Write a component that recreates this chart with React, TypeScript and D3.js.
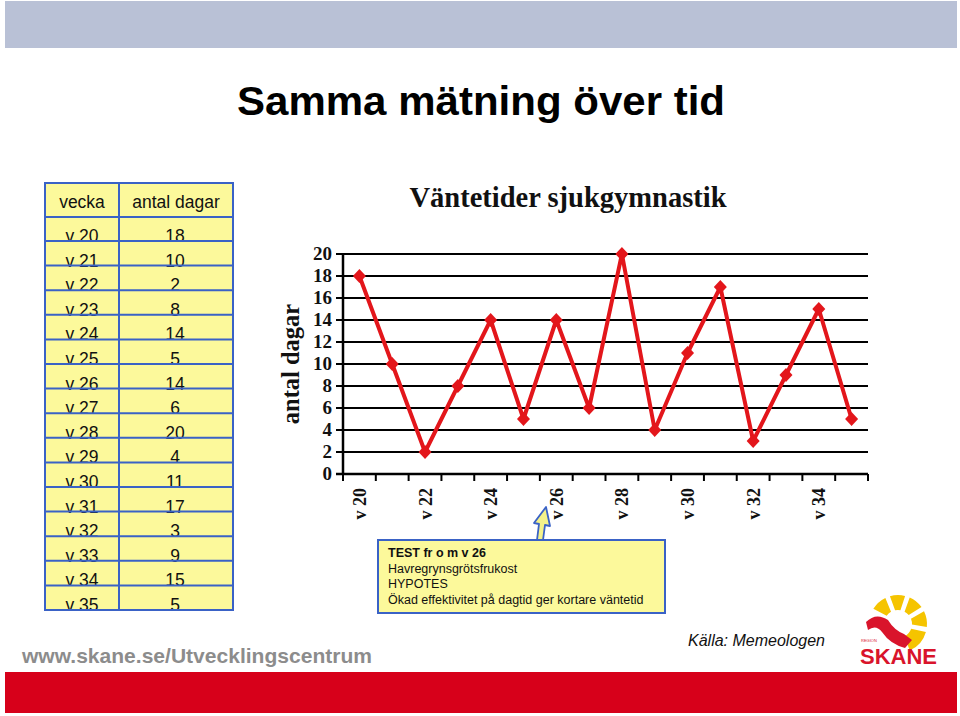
import React from "react";
import * as d3 from "d3";

const weeks = ["v 20","v 21","v 22","v 23","v 24","v 25","v 26","v 27","v 28","v 29","v 30","v 31","v 32","v 33","v 34","v 35"];
const days = [18,10,2,8,14,5,14,6,20,4,11,17,3,9,15,5];
const yTicks = [0,2,4,6,8,10,12,14,16,18,20];
const noteLines = ["TEST fr o m v 26","Havregrynsgrötsfrukost","HYPOTES","Ökad effektivitet på dagtid ger kortare väntetid"];

const W = 960, H = 716;

export default function App() {
  const x = d3.scaleBand<string>().domain(weeks).range([343, 868]).padding(0);
  const y = d3.scaleLinear().domain([0, 20]).range([474, 254]);
  const cxOf = (i: number) => (x(weeks[i]) as number) + x.bandwidth() / 2;
  const line = d3.line<number>().x((_, i) => cxOf(i)).y(d => y(d));

  // table
  const tX0 = 45, tX1 = 233, tDiv = 119, tY0 = 183, hdrBottom = 217, tY1 = 610;
  const firstRowBottom = 241;
  const rowH = (tY1 - firstRowBottom) / (weeks.length - 1);
  const rowBottom = (i: number) => firstRowBottom + i * rowH;
  const blue = "#3a62c6";

  const times = "'Liberation Serif', 'Times New Roman', serif";
  const arial = "'Liberation Sans', Arial, sans-serif";

  const sunArc = d3.arc<any>().innerRadius(14).outerRadius(29).padAngle(0.12);
  const segs = [[-62, -22], [-20, 18], [20, 58], [60, 100], [102, 160]];

  return (
    <svg width={W} height={H} style={{ position: "absolute", left: 0, top: 0, background: "#fff" }}>
      <rect x={0} y={0} width={W} height={H} fill="#fff" />
      <rect x={5} y={1} width={952} height={47} fill="#b9c1d6" />
      <text x={481} y={115} textAnchor="middle" fontFamily={arial} fontWeight="bold" fontSize={41} fill="#000" textLength={488} lengthAdjust="spacingAndGlyphs">Samma mätning över tid</text>

      {/* table */}
      <rect x={tX0} y={tY0} width={tX1 - tX0} height={tY1 - tY0} fill="#fcf99b" />
      <text x={(tX0 + tDiv) / 2} y={208} textAnchor="middle" fontFamily={arial} fontSize={17.5} fill="#111">vecka</text>
      <text x={(tDiv + tX1) / 2} y={208} textAnchor="middle" fontFamily={arial} fontSize={17.5} fill="#111">antal dagar</text>
      {weeks.map((w, i) => {
        const yy = rowBottom(i) + 1;
        return (
          <g key={w}>
            <text x={(tX0 + tDiv) / 2} y={yy} textAnchor="middle" fontFamily={arial} fontSize={17.5} fill="#111">{w}</text>
            <text x={(tDiv + tX1) / 2 - 1} y={yy} textAnchor="middle" fontFamily={arial} fontSize={17.5} fill="#111">{days[i]}</text>
          </g>
        );
      })}
      <line x1={tX0} x2={tX1} y1={hdrBottom} y2={hdrBottom} stroke={blue} strokeWidth={2} />
      {weeks.slice(0, -1).map((w, i) => (
        <line key={w} x1={tX0} x2={tX1} y1={rowBottom(i)} y2={rowBottom(i)} stroke={blue} strokeWidth={2} />
      ))}
      <rect x={tX0} y={tY0} width={tX1 - tX0} height={tY1 - tY0} fill="none" stroke={blue} strokeWidth={2} />
      <line x1={tDiv} x2={tDiv} y1={tY0} y2={tY1} stroke={blue} strokeWidth={2} />

      {/* chart */}
      <text x={568} y={207} textAnchor="middle" fontFamily={times} fontWeight="bold" fontSize={28.5} fill="#111">Väntetider sjukgymnastik</text>
      {yTicks.map(t => (
        <g key={t}>
          <line x1={336} x2={868} y1={y(t)} y2={y(t)} stroke="#000" strokeWidth={t === 0 ? 2.5 : 2} />
          <text x={332} y={y(t) + 6} textAnchor="end" fontFamily={times} fontWeight="bold" fontSize={19} fill="#111">{t}</text>
        </g>
      ))}
      <line x1={343} x2={343} y1={254} y2={475} stroke="#000" strokeWidth={2.5} />
      {d3.range(weeks.length + 1).map(i => (
        <line key={i} x1={343 + i * x.bandwidth()} x2={343 + i * x.bandwidth()} y1={474} y2={481} stroke="#000" strokeWidth={2} />
      ))}
      {weeks.map((w, i) => i % 2 === 0 ? (
        <text key={w} transform={`translate(${cxOf(i) + 6.5},${488}) rotate(-90)`} textAnchor="end" fontFamily={times} fontWeight="bold" fontSize={18} fill="#111">{w}</text>
      ) : null)}
      <text transform="translate(299,364) rotate(-90)" textAnchor="middle" fontFamily={times} fontWeight="bold" fontSize={24.5} fill="#111">antal dagar</text>

      <path d={line(days) as string} fill="none" stroke="#e3161b" strokeWidth={4} strokeLinejoin="round" />
      {days.map((d, i) => {
        const cx = cxOf(i), cy = y(d);
        return <path key={i} d={`M${cx},${cy - 7}L${cx + 6.5},${cy}L${cx},${cy + 7}L${cx - 6.5},${cy}Z`} fill="#e3161b" />;
      })}

      {/* annotation */}
      <rect x={378} y={540} width={287} height={73} fill="#fcf99b" stroke="#3a62c6" strokeWidth={2} />
      {noteLines.map((t, i) => (
        <text key={i} x={388} y={557 + i * 15.7} fontFamily={arial} fontSize={12.5} fontWeight={i === 0 ? "bold" : "normal"} fill="#111">{t}</text>
      ))}
      <path d="M537,540 L539,524 L534,523 L546,507 L550,526 L545,525 L543,540 Z" fill="#f4f28a" stroke="#3a62c6" strokeWidth={1.8} strokeLinejoin="round" />

      {/* footer */}
      <text x={22} y={663} fontFamily={arial} fontWeight="bold" fontSize={20.5} fill="#8c8c8c" textLength={350} lengthAdjust="spacingAndGlyphs">www.skane.se/Utvecklingscentrum</text>
      <text x={688} y={646} fontFamily={arial} fontStyle="italic" fontSize={16} fill="#111">Källa: Memeologen</text>

      {/* logo */}
      <g transform="translate(898,624)">
        {segs.map((s, i) => (
          <path key={i} d={sunArc({ startAngle: (s[0] * Math.PI) / 180, endAngle: (s[1] * Math.PI) / 180 }) as string} fill="#f5c400" />
        ))}
      </g>
      <path d="M866,622 Q876,612 888,620 Q894,630 904,634 L912,640 L905,648 Q890,644 882,632 Q876,624 868,630 Z" fill="#d9142b" />
      <text x={860} y={664} fontFamily={arial} fontWeight="bold" fontSize={22} fill="#d9142b" textLength={77} lengthAdjust="spacingAndGlyphs">SKANE</text>
      <text x={861} y={642} fontFamily={arial} fontSize={4} fill="#d9142b">REGION</text>

      <rect x={5} y={672} width={952} height={41} fill="#d7001a" />
    </svg>
  );
}
